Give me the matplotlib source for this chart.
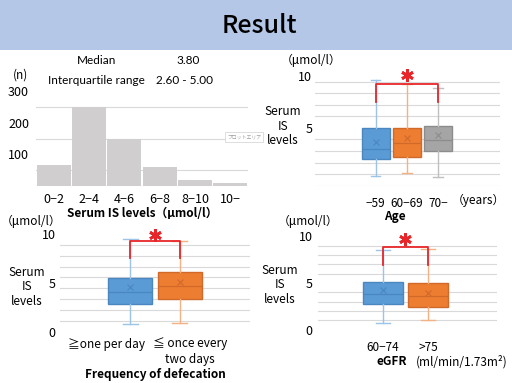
import numpy as np
import matplotlib.pyplot as plt
from matplotlib.patches import Rectangle
from matplotlib.transforms import ScaledTranslation

W, H = 512, 383
plt.rcParams['font.family'] = ['Noto Sans CJK JP', 'DejaVu Sans']
plt.rcParams['font.size'] = 8.5

# Histogram of serum IS levels
hist_bins = ['0−2', '2−4', '4−6', '6−8', '8−10', '10−']
hist_counts = [65, 251, 150, 60, 18, 10]
median_text = '3.80'
iqr_text = '2.60 - 5.00'

# Age groups
age_groups = ['−59', '60−69', '70−']
age_whislo = [0.81, 1.12, 0.72]
age_q1 = [2.28, 2.51, 3.03]
age_med = [3.14, 3.66, 3.95]
age_q3 = [5.00, 5.00, 5.19]
age_whishi = [9.14, 8.79, 8.44]
age_mean = [3.80, 4.12, 4.38]

# Frequency of defecation
def_groups = ['≧one per day', '≦ once every\ntwo days']
def_whislo = [0.79, 0.89]
def_q1 = [2.83, 3.38]
def_med = [4.03, 4.68]
def_q3 = [5.47, 6.08]
def_whishi = [9.49, 9.28]
def_mean = [4.54, 5.05]

# eGFR groups
egfr_groups = ['60−74', '>75']
egfr_whislo = [0.72, 1.07]
egfr_q1 = [2.75, 2.43]
egfr_med = [3.79, 3.61]
egfr_q3 = [5.14, 4.97]
egfr_whishi = [8.54, 8.65]
egfr_mean = [4.22, 3.97]

fills = ['#5B9BD5', '#ED7D31', '#A5A5A5']
edges = ['#4A86C0', '#D0692A', '#8C8C8C']
whisk = ['#9DC3E6', '#F4B183', '#C0C0C0']
grid_col = '#D9D9D9'
red = '#E8262A'

fig = plt.figure(figsize=(W / 100, H / 100), dpi=100)


def px_ax(x0, y0, x1, y1):
    # axes placed by pixel box on the slide
    return fig.add_axes([x0 / W, 1 - y1 / H, (x1 - x0) / W, (y1 - y0) / H])


def ptext(x, y, s, **kw):
    kw.setdefault('ha', 'center')
    kw.setdefault('va', 'center')
    fig.text(x / W, 1 - y / H, s, **kw)


def clean(ax, grid):
    for sp in ax.spines.values():
        sp.set_visible(False)
    ax.set_yticks(grid, minor=True)
    ax.grid(True, which='minor', axis='y', color=grid_col, lw=0.8)
    ax.set_axisbelow(True)
    ax.tick_params(which='both', length=0)


def box_chart(ax, whislo, q1, med, q3, whishi, mean, width):
    stats = []
    for i in range(len(med)):
        stats.append(dict(whislo=whislo[i], q1=q1[i], med=med[i], q3=q3[i],
                          whishi=whishi[i], mean=mean[i]))
    pos = np.arange(len(med))
    b = ax.bxp(stats, positions=pos, widths=width, patch_artist=True,
               showmeans=True, showfliers=False, capwidths=0.3)
    for i in range(len(med)):
        b['boxes'][i].set(facecolor=fills[i], edgecolor=edges[i], lw=1)
        b['medians'][i].set(color=edges[i], lw=0.9)
        b['means'][i].set(marker='x', markeredgecolor=edges[i], markersize=4, mew=0.8)
        for k in (2 * i, 2 * i + 1):
            b['whiskers'][k].set(color=whisk[i], lw=1)
            b['caps'][k].set(color=whisk[i], lw=1)


def bracket(ax, x0, x1, ylow, yhigh, ystar):
    ax.plot([x0, x0, x1, x1], [ylow, yhigh, yhigh, ylow], color=red, lw=1.3,
            clip_on=False)
    ax.plot([(x0 + x1) / 2], [ystar], marker=(6, 2, 0), color=red,
            markersize=9, mew=2, clip_on=False)


# title band
fig.patches.append(Rectangle((0, 1 - 50 / H), 1, 50 / H, transform=fig.transFigure,
                             facecolor='#B4C7E7', edgecolor='none'))
ptext(259, 26, 'Result', fontsize=18, fontweight='medium')

# ---- histogram (top left)
ax1 = px_ax(36, 91, 248, 186)
ax1.bar(range(len(hist_counts)), hist_counts, width=0.97, color='#D0CECE', zorder=2)
ax1.set_xlim(-0.5, 5.5)
ax1.set_ylim(0, 300)
clean(ax1, np.arange(0, 301, 50))
ax1.set_yticks([100, 200, 300])
ax1.set_xticks(range(len(hist_bins)))
ax1.set_xticklabels(hist_bins)
ax1.tick_params(axis='y', pad=5, labelsize=9)
ax1.tick_params(axis='x', pad=5, labelsize=9)
ax1.set_xlabel('Serum IS levels（μmol/l）', fontweight='bold', labelpad=1)
ptext(20, 75, '(n)')
ptext(97, 60, 'Median', fontsize=8.5, family='Lato')
ptext(188, 60, median_text, fontsize=8.5, family='Lato')
ptext(96, 81, 'Interquartile range', fontsize=8.5, family='Lato')
ptext(185, 81, iqr_text, fontsize=8.5, family='Lato')
ptext(244, 137, 'プロットエリア', fontsize=3.5, color='#A0A0A0',
      bbox=dict(facecolor='white', edgecolor='#D0D0D0', lw=0.5, pad=1.5))

# ---- age (top right)
ax2 = px_ax(315, 70, 500, 185.7)
box_chart(ax2, age_whislo, age_q1, age_med, age_q3, age_whishi, age_mean, 0.91)
ax2.set_xlim(-1.96, 4.0)
ax2.set_ylim(0, 10)
clean(ax2, np.arange(0, 11, 1))
ax2.set_yticks([5, 10])
ax2.tick_params(axis='y', pad=2, labelsize=9)
ax2.set_xticks(range(len(age_groups)))
ax2.set_xticklabels(age_groups)
ax2.tick_params(axis='x', pad=8)
# the "10" label sits a little below its gridline on the slide
down = ScaledTranslation(0, -6 / 100, fig.dpi_scale_trans)
lab10 = ax2.yaxis.get_major_ticks()[1].label1
lab10.set_transform(lab10.get_transform() + down)
bracket(ax2, 0, 2, 7.26, 8.79, 9.57)
ptext(478, 200.7, '（years）')
ptext(395, 216, 'Age', fontweight='bold')
ptext(283, 126, 'Serum\nIS\nlevels', linespacing=1.15)
ptext(311, 60, '（μmol/l）')

# ---- defecation (bottom left)
ax3 = px_ax(60, 234, 250, 331.7)
box_chart(ax3, def_whislo, def_q1, def_med, def_q3, def_whishi, def_mean, 0.89)
ax3.set_xlim(-1.43, 2.43)
ax3.set_ylim(0, 10)
clean(ax3, np.linspace(0, 10, 10))
ax3.set_yticks([0, 5, 10])
ax3.tick_params(axis='y', pad=3, labelsize=9)
ax3.set_xticks([])
bracket(ax3, 0, 1, 7.51, 9.31, 9.9)
ptext(107, 344.3, def_groups[0])
ptext(190, 352, def_groups[1], linespacing=1.3)
ptext(155, 374.3, 'Frequency of defecation', fontweight='bold')
ptext(27, 287, 'Serum\nIS\nlevels', linespacing=1.15)
ptext(31, 221.7, '（μmol/l）')

# ---- eGFR (bottom right)
ax4 = px_ax(318.3, 236.4, 496.7, 329.7)
box_chart(ax4, egfr_whislo, egfr_q1, egfr_med, egfr_q3, egfr_whishi, egfr_mean, 0.9)
ax4.set_xlim(-1.44, 2.53)
ax4.set_ylim(0, 10)
clean(ax4, np.arange(0, 10, 1))
ax4.set_yticks([0, 5, 10])
ax4.tick_params(axis='y', pad=4, labelsize=9)
ax4.set_xticks(range(len(egfr_groups)))
ax4.set_xticklabels(egfr_groups)
ax4.tick_params(axis='x', pad=8)
bracket(ax4, 0, 1, 6.93, 8.9, 9.72)
ptext(392, 361.7, 'eGFR', fontweight='bold')
ptext(462, 361.7, '(ml/min/1.73m²)')
ptext(280, 285, 'Serum\nIS\nlevels', linespacing=1.15)
ptext(308, 221.7, '（μmol/l）')

fig.savefig('out.png', dpi=100)
